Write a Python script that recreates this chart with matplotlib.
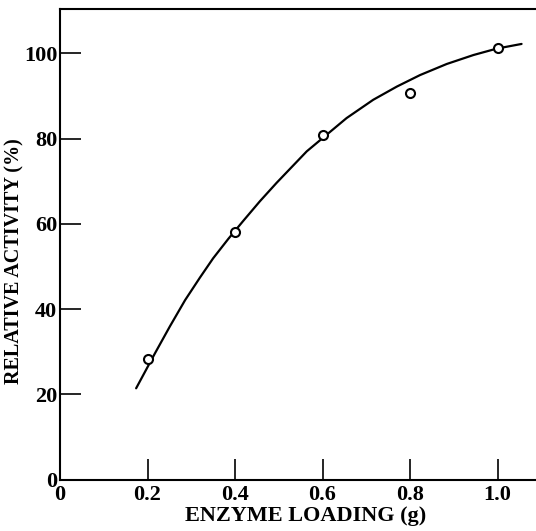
import numpy as np
import matplotlib
matplotlib.use("Agg")
import matplotlib.pyplot as plt

# measured points (enzyme loading in g, relative activity in %)
loading = [0.2, 0.4, 0.6, 0.8, 1.0]
activity = [28.2, 58.0, 80.9, 90.8, 101.2]

# hand-drawn trend curve
curve_x = [0.174, 0.217, 0.251, 0.286, 0.320, 0.350, 0.385, 0.419,
           0.457, 0.495, 0.564, 0.655, 0.716, 0.770, 0.823, 0.884,
           0.945, 0.998, 1.055]
curve_y = [21.4, 29.6, 35.9, 42.1, 47.4, 51.9, 56.5, 60.7,
           65.3, 69.6, 77.0, 84.8, 89.1, 92.2, 94.9, 97.5,
           99.6, 101.1, 102.2]

x_ticks = [0, 0.2, 0.4, 0.6, 0.8, 1.0]
x_ticklabels = ["0", "0.2", "0.4", "0.6", "0.8", "1.0"]
y_ticks = [0, 20, 40, 60, 80, 100]
y_ticklabels = ["0", "20", "40", "60", "80", "100"]

plt.rcParams["font.family"] = ["Liberation Serif", "DejaVu Serif"]
plt.rcParams["font.weight"] = "bold"

fig = plt.figure(figsize=(5.36, 5.31), dpi=100)
axis = fig.add_axes([60 / 536, 51.5 / 531, 476 / 536, 470.5 / 531])

axis.plot(curve_x, curve_y, "k-", lw=1.6, solid_joinstyle="round",
          solid_capstyle="round", zorder=2)
axis.plot(loading, activity, "o", ms=6.5, mfc="white", mec="black",
          mew=1.5, zorder=3)

axis.set_xlim(0, 1.088)
axis.set_ylim(0, 110.4)

axis.set_xticks(x_ticks)
axis.set_xticklabels(x_ticklabels)
axis.set_yticks(y_ticks)
axis.set_yticklabels(y_ticklabels)
axis.tick_params(axis="both", direction="in", length=15, width=1.2,
                 labelsize=16)
axis.tick_params(axis="x", pad=4)
axis.tick_params(axis="y", pad=2)

for side in ["left", "bottom", "top"]:
    axis.spines[side].set_linewidth(1.5)
axis.spines["right"].set_visible(False)

axis.set_xlabel("ENZYME LOADING (g)", fontsize=16, fontweight="bold")
axis.set_ylabel("RELATIVE ACTIVITY (%)", fontsize=14.5, fontweight="bold")
axis.xaxis.set_label_coords(0.515, -0.057)
axis.yaxis.set_label_coords(-0.074, 0.465)

fig.savefig("out.png", dpi=100)
